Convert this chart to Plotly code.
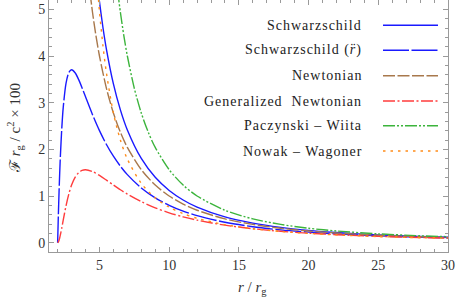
import plotly.graph_objects as go

# ---- data (r / r_g  vs  F r_g / c^2 x 100) ----
r_schw = [4.8, 5, 5.25, 5.5, 6, 6.5, 7, 8, 9, 10, 11, 12, 14, 16, 18, 20, 22, 25, 28, 30]
f_schw = [5.683, 5.164, 4.611, 4.144, 3.402, 2.845, 2.415, 1.804, 1.400, 1.118, 0.914, 0.761,
          0.551, 0.418, 0.327, 0.264, 0.217, 0.167, 0.132, 0.115]

r_rdd = [2, 2.05, 2.1, 2.15, 2.2, 2.3, 2.4, 2.6, 2.8, 3, 3.25, 3.5, 3.75, 4, 4.5, 5, 5.5, 6, 6.5,
         7, 8, 9, 10, 11, 12, 14, 16, 18, 20, 22, 25, 28, 30]
f_rdd = [0, 0.580, 1.080, 1.509, 1.878, 2.466, 2.894, 3.414, 3.644, 3.704, 3.641, 3.499, 3.319,
         3.125, 2.743, 2.400, 2.104, 1.852, 1.639, 1.458, 1.172, 0.960, 0.800, 0.676, 0.579,
         0.437, 0.342, 0.274, 0.225, 0.188, 0.147, 0.118, 0.104]

r_newt = [4.2, 4.5, 4.75, 5, 5.5, 6, 6.5, 7, 8, 9, 10, 11, 12, 14, 16, 18, 20, 22, 25, 28, 30]
f_newt = [5.669, 4.938, 4.432, 4.000, 3.306, 2.778, 2.367, 2.041, 1.563, 1.235, 1.000, 0.826,
          0.694, 0.510, 0.391, 0.309, 0.250, 0.207, 0.160, 0.128, 0.111]

r_gn = r_rdd
f_gn = [0, 0.014, 0.051, 0.105, 0.171, 0.322, 0.482, 0.788, 1.041, 1.235, 1.401, 1.499, 1.549,
        1.563, 1.524, 1.440, 1.339, 1.235, 1.134, 1.041, 0.879, 0.747, 0.640, 0.553, 0.482,
        0.375, 0.299, 0.244, 0.203, 0.171, 0.135, 0.110, 0.097]

r_pw = [6.3, 6.5, 6.75, 7, 7.5, 8, 8.5, 9, 10, 11, 12, 14, 16, 18, 20, 22, 25, 28, 30]
f_pw = [5.408, 4.938, 4.432, 4.000, 3.306, 2.778, 2.367, 2.041, 1.563, 1.235, 1.000, 0.694,
        0.510, 0.391, 0.309, 0.250, 0.189, 0.148, 0.128]

r_nw = [4.8, 5, 5.25, 5.5, 6, 6.5, 7, 8, 9, 10, 11, 12, 14, 16, 18, 20, 22, 25, 28, 30]
f_nw = [5.697, 4.960, 4.220, 3.634, 2.778, 2.199, 1.791, 1.270, 0.960, 0.760, 0.622, 0.521,
        0.385, 0.299, 0.240, 0.198, 0.166, 0.131, 0.106, 0.093]

names = ["Schwarzschild", "Schwarzschild (<i>r\u0308</i>)", "Newtonian",
         "Generalized  Newtonian", "Paczynski \u2013 Wiita", "Nowak \u2013 Wagoner"]
xs = [r_schw, r_rdd, r_newt, r_gn, r_pw, r_nw]
ys = [f_schw, f_rdd, f_newt, f_gn, f_pw, f_nw]

x_ticks = [5, 10, 15, 20, 25, 30]
y_ticks = [0, 1, 2, 3, 4, 5]

colors = ["#1a1aff", "#1a1aff", "#a8784c", "#ff3c3c", "#3cb43c", "#ff8c1a"]
dashes = ["solid", "26px,2.5px", "12px,2.5px", "12px,2.5px,2px,2.5px",
          "12px,2px,2px,2px,2px,2px", "2.5px,5px"]

FONT = "Liberation Serif"
W, H = 458, 304
L, R, T, B = 49, 10, 0, 52
PW_, PH_ = W - L - R, H - T - B

fig = go.Figure()
for x, y, n, c, d in zip(xs, ys, names, colors, dashes):
    fig.add_trace(go.Scatter(x=x, y=y, mode="lines", name=n,
                             line=dict(color=c, width=1.4, dash=d, shape="spline", smoothing=0.8),
                             showlegend=False))

# legend drawn Mathematica-style: right-aligned text with sample line on the right
row_px = [25.3, 50.3, 75.7, 101, 125.7, 151]
for n, c, d, yp in zip(names, colors, dashes, row_px):
    yy = (PH_ - (yp - T)) / PH_
    fig.add_annotation(x=(364 - L) / PW_, y=yy, xref="paper", yref="paper",
                       text='<span style="letter-spacing:1px">' + n + "</span>",
                       showarrow=False, xanchor="right", yanchor="middle",
                       font=dict(family=FONT, size=14, color="#222"))
    fig.add_shape(type="line", xref="paper", yref="paper", x0=(383 - L) / PW_, x1=(438 - L) / PW_,
                  y0=yy, y1=yy, line=dict(color=c, width=1.4, dash=d))

axis_common = dict(showgrid=False, zeroline=False, showline=True, linecolor="#9a9a9a",
                   linewidth=1, mirror="ticks", ticks="inside", ticklen=5, tickcolor="#9a9a9a",
                   tickfont=dict(family=FONT, size=14, color="#333"))

fig.update_xaxes(range=[1.38, 30.0], tickvals=x_ticks, ticklabeloverflow="allow",
                 minor=dict(dtick=1, tick0=0, ticklen=3, ticks="inside", tickcolor="#9a9a9a"),
                 **axis_common)
fig.update_yaxes(range=[-0.2, 5.2], tickvals=y_ticks,
                 minor=dict(dtick=0.2, tick0=0, ticklen=3, ticks="inside", tickcolor="#9a9a9a"),
                 **axis_common)

fig.add_annotation(x=(252 - L) / PW_, y=-(288 - (T + PH_)) / PH_, xref="paper", yref="paper",
                   text="<i>r</i> / <i>r</i><sub>g</sub>", showarrow=False,
                   xanchor="center", yanchor="middle",
                   font=dict(family=FONT, size=15, color="#333"))
fig.add_annotation(x=-(L - 15) / PW_, y=(T + PH_ - 128) / PH_, xref="paper", yref="paper",
                   text="\u2131 <i>r</i><sub>g</sub> / c<sup>2</sup> \u00d7 100", showarrow=False,
                   textangle=-90, xanchor="center", yanchor="middle",
                   font=dict(family=FONT, size=15, color="#333"))

fig.update_layout(width=W, height=H, margin=dict(l=L, r=R, t=T, b=B),
                  paper_bgcolor="white", plot_bgcolor="white",
                  font=dict(family=FONT, size=14, color="#333"))
fig.write_html("out.html", config={"displayModeBar": False},
               post_script="document.body.style.margin='0';")
